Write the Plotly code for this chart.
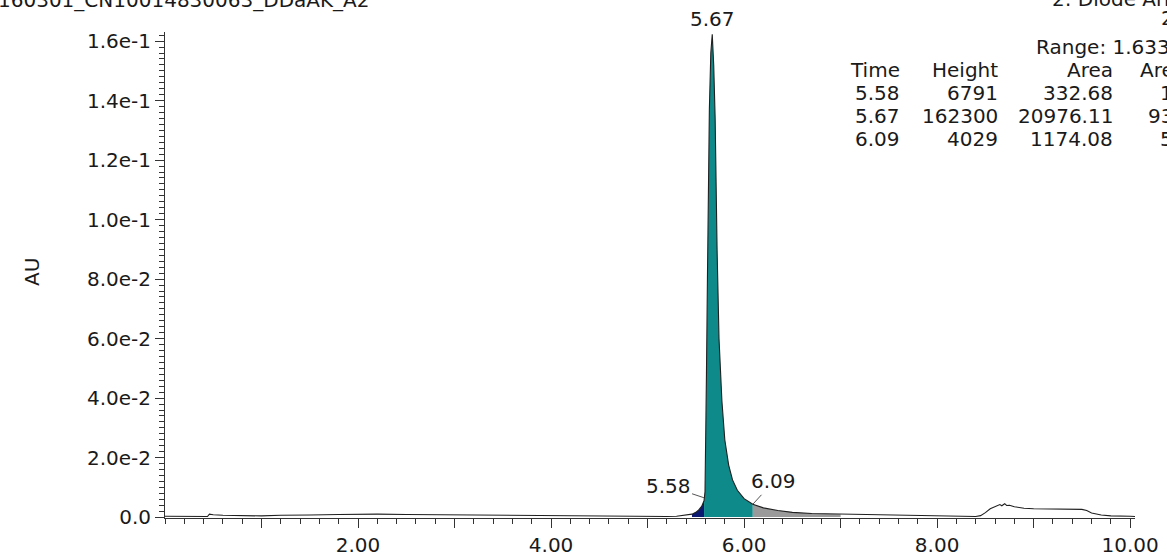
import plotly.graph_objects as go

# ---------------- data ----------------
time_min = [0.00, 0.20, 0.40, 0.44, 0.46, 0.50, 0.60, 0.80, 1.00, 1.20, 1.30, 1.50,
            1.80, 2.00, 2.20, 2.50, 2.80, 3.00, 3.30, 3.60, 3.80, 4.00, 4.30, 4.60,
            5.00, 5.20, 5.30, 5.40, 5.46, 5.50, 5.53, 5.56, 5.585, 5.595, 5.60, 5.61,
            5.62, 5.63, 5.64, 5.655, 5.67, 5.685, 5.70, 5.72, 5.74, 5.77, 5.80, 5.84,
            5.88, 5.93, 6.00, 6.09, 6.20, 6.35, 6.50, 6.70, 7.00, 7.30, 7.60, 7.90,
            8.20, 8.40, 8.45, 8.50, 8.55, 8.60, 8.65, 8.67, 8.70, 8.72, 8.75, 8.80,
            8.90, 9.00, 9.20, 9.40, 9.50, 9.55, 9.60, 9.70, 9.80, 10.00, 10.05]
absorbance = [0.0003, 0.0003, 0.0003, 0.0002, 0.0010, 0.0008, 0.0006, 0.0005, 0.0004, 0.0006, 0.0007, 0.0007,
              0.0009, 0.0010, 0.0010, 0.0009, 0.0008, 0.0008, 0.0008, 0.0006, 0.0005, 0.0004, 0.0003, 0.0002,
              0.0001, 0.0002, 0.0003, 0.0006, 0.0010, 0.0016, 0.0024, 0.0036, 0.0055, 0.0085, 0.0180, 0.0480,
              0.0800, 0.1100, 0.1370, 0.1560, 0.1623, 0.1520, 0.1340, 0.0900, 0.0600, 0.0390, 0.0260, 0.0175,
              0.0125, 0.0090, 0.0062, 0.0043, 0.0031, 0.0022, 0.0016, 0.0012, 0.0010, 0.0008, 0.0006, 0.0004,
              0.0003, 0.0002, 0.0005, 0.0015, 0.0028, 0.0035, 0.0042, 0.0038, 0.0045, 0.0039, 0.0040, 0.0035,
              0.0030, 0.0028, 0.0027, 0.0027, 0.0026, 0.0022, 0.0014, 0.0007, 0.0004, 0.0003, 0.0002]

# integration segments (start, end) in minutes
peak_segments = [(5.46, 5.585), (5.585, 6.09), (6.09, 7.00)]
segment_colors = ["#0c1a72", "#0f8a8a", "#9a9a9a"]

# peak table
peak_times = ["5.58", "5.67", "6.09"]
peak_heights = ["6791", "162300", "4029"]
peak_areas = ["332.68", "20976.11", "1174.08"]
peak_area_pct = ["1.48", "93.30", "5.22"]

y_tick_vals = [0.0, 0.02, 0.04, 0.06, 0.08, 0.10, 0.12, 0.14, 0.16]
y_tick_text = ["0.0", "2.0e-2", "4.0e-2", "6.0e-2", "8.0e-2", "1.0e-1", "1.2e-1", "1.4e-1", "1.6e-1"]
x_tick_vals = [1, 2, 3, 4, 5, 6, 7, 8, 9, 10]
x_tick_text = ["", "2.00", "", "4.00", "", "6.00", "", "8.00", "", "10.00"]

# ---------------- layout geometry ----------------
W, H = 1167, 558
ML, MR, MT, MB = 165, 32, 32, 40
PW, PH = W - ML - MR, H - MT - MB
FONT = "DejaVu Sans, Arial, sans-serif"
FS = 20
TXT = "#1a1a1a"


def px(x):
    return (x - ML) / PW


def py(y):
    return (H - MB - y) / PH


def label(x, y, text, xanchor="center", angle=0, size=FS):
    return dict(x=px(x), y=py(y), xref="paper", yref="paper", text=text,
                xanchor=xanchor, yanchor="middle", showarrow=False, textangle=angle,
                font=dict(size=size, color=TXT, family=FONT))


fig = go.Figure()

for (t0, t1), col in zip(peak_segments, segment_colors):
    xs = [t for t in time_min if t0 <= t <= t1]
    ys = [a for t, a in zip(time_min, absorbance) if t0 <= t <= t1]
    fig.add_trace(go.Scatter(x=xs, y=ys, mode="lines", fill="tozeroy",
                             fillcolor=col, line=dict(color=col, width=0),
                             hoverinfo="skip", showlegend=False))

fig.add_trace(go.Scatter(x=time_min, y=absorbance, mode="lines",
                         line=dict(color="#202020", width=1.1),
                         showlegend=False))

ann = []
# peak labels
ann.append(dict(x=5.67, y=0.1623, xref="x", yref="y", text="5.67", showarrow=False,
                xanchor="center", yanchor="bottom", yshift=1,
                font=dict(size=FS, color=TXT, family=FONT)))
ann.append(dict(x=5.585, y=0.0065, xref="x", yref="y", text="5.58", showarrow=True,
                arrowhead=0, arrowwidth=1, arrowcolor="#555", ax=-36, ay=-12,
                xanchor="center", yanchor="middle",
                font=dict(size=FS, color=TXT, family=FONT)))
ann.append(dict(x=6.09, y=0.0043, xref="x", yref="y", text="6.09", showarrow=True,
                arrowhead=0, arrowwidth=1, arrowcolor="#555", ax=21, ay=-23,
                xanchor="center", yanchor="middle",
                font=dict(size=FS, color=TXT, family=FONT)))

# y axis title
ann.append(label(32, 272, "AU", angle=-90))

# header texts (partly cut off in the reference)
ann.append(label(372, 0, "160301_CN10014830063_DDaAK_A2", xanchor="right"))
ann.append(label(1050, -1, "2: Diode Array", xanchor="left"))
ann.append(label(1159, 18, "254", xanchor="left"))
ann.append(label(1034, 47, "Range: 1.633e-1", xanchor="left"))

# peak table
col_right = [902, 1000, 1115, 1207]
header = ["Time", "Height", "Area", "Area%"]
rows_y = [70, 93, 116, 139]
columns = [peak_times, peak_heights, peak_areas, peak_area_pct]
for ci, xr in enumerate(col_right):
    ann.append(label(xr, rows_y[0], header[ci], xanchor="right"))
    for ri, val in enumerate(columns[ci]):
        ann.append(label(xr, rows_y[ri + 1], val, xanchor="right"))

fig.update_layout(
    width=W, height=H,
    margin=dict(l=ML, r=MR, t=MT, b=MB),
    paper_bgcolor="white", plot_bgcolor="white",
    annotations=ann,
    xaxis=dict(range=[0, 10.05], showgrid=False, zeroline=False, automargin=False,
               showline=True, linecolor="#333", linewidth=1,
               ticks="outside", ticklen=9, tickcolor="#333",
               tickvals=x_tick_vals, ticktext=x_tick_text, ticklabelstandoff=0,
               tickfont=dict(size=FS, color=TXT, family=FONT),
               minor=dict(dtick=0.2, ticks="outside", ticklen=5, tickcolor="#333", showgrid=False)),
    yaxis=dict(range=[-0.0003, 0.16306], showgrid=False, zeroline=False, automargin=False,
               showline=True, linecolor="#333", linewidth=1,
               ticks="outside", ticklen=9, tickcolor="#333",
               tickvals=y_tick_vals, ticktext=y_tick_text,
               tickfont=dict(size=FS, color=TXT, family=FONT),
               minor=dict(dtick=0.002, ticks="outside", ticklen=5, tickcolor="#333", showgrid=False)),
)

fig.write_html("out.html")
